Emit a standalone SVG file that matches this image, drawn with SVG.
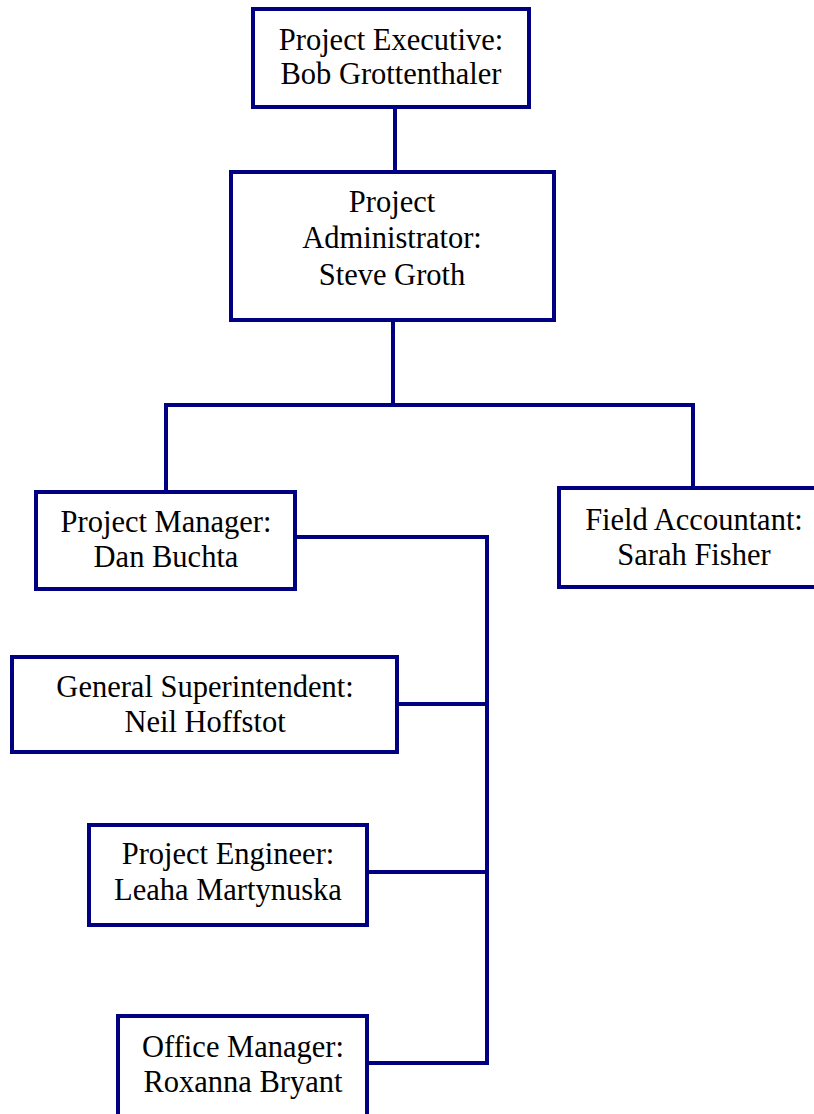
<svg xmlns="http://www.w3.org/2000/svg" width="814" height="1114" viewBox="0 0 814 1114">
<style>
.box{fill:#fff;stroke:#000080;stroke-width:4}
.ln{fill:none;stroke:#000080;stroke-width:4}
text{font-family:"Liberation Serif","Times New Roman",serif;font-size:30.5px;fill:#000;text-anchor:middle}
</style>
<rect width="814" height="1114" fill="#fff"/>
<g id="connectors">
<path class="ln" d="M395,107 V172"/>
<path class="ln" d="M393,320 V405"/>
<path class="ln" d="M166,491 V405 H693 V488"/>
<path class="ln" d="M296,537 H487 V1063 H367"/>
<path class="ln" d="M397,704 H487"/>
<path class="ln" d="M367,872 H487"/>
</g>
<g id="executive">
<rect class="box" x="253" y="9" width="276" height="98"/>
<text x="391" y="50">Project Executive:</text>
<text x="391" y="84">Bob Grottenthaler</text>
</g>
<g id="administrator">
<rect class="box" x="231" y="172" width="323" height="148"/>
<text x="392" y="212">Project</text>
<text x="392" y="248">Administrator:</text>
<text x="392" y="285">Steve Groth</text>
</g>
<g id="manager">
<rect class="box" x="36" y="492" width="259" height="97"/>
<text x="166" y="532">Project Manager:</text>
<text x="166" y="567">Dan Buchta</text>
</g>
<g id="accountant">
<rect class="box" x="559" y="488" width="270" height="99"/>
<text x="694" y="530">Field Accountant:</text>
<text x="694" y="565">Sarah Fisher</text>
</g>
<g id="superintendent">
<rect class="box" x="12" y="657" width="385" height="95"/>
<text x="205" y="697">General Superintendent:</text>
<text x="205" y="732">Neil Hoffstot</text>
</g>
<g id="engineer">
<rect class="box" x="89" y="825" width="278" height="100"/>
<text x="228" y="864">Project Engineer:</text>
<text x="228" y="900">Leaha Martynuska</text>
</g>
<g id="office">
<rect class="box" x="118" y="1016" width="249" height="120"/>
<text x="243" y="1057">Office Manager:</text>
<text x="243" y="1092">Roxanna Bryant</text>
</g>
</svg>
